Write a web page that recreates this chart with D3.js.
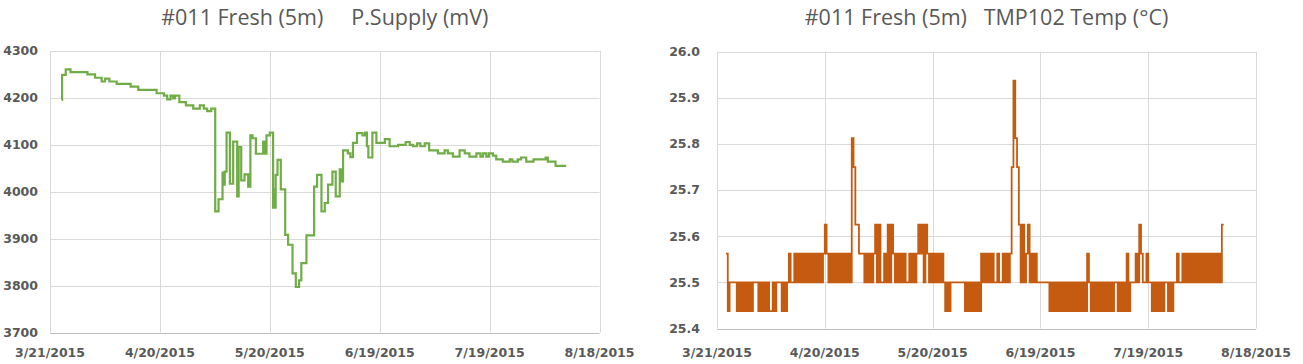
<!DOCTYPE html>
<html>
<head>
<meta charset="utf-8">
<script src="https://cdn.jsdelivr.net/npm/d3@7"></script>
<style>
body { margin: 0; background: #fff; }
</style>
</head>
<body>
<div id="chart"></div>
<script>
var dateTicks = ["3/21/2015", "4/20/2015", "5/20/2015", "6/19/2015", "7/19/2015", "8/18/2015"];
var supplyTicks = [3700, 3800, 3900, 4000, 4100, 4200, 4300];
var tempTicks = [25.4, 25.5, 25.6, 25.7, 25.8, 25.9, 26.0];

// P.Supply readings: [days after 3/21/2015, mV] (value holds until next reading)
var supplySteps = [
  [3.2, 4196], [3.3, 4249], [4.3, 4261], [5.6, 4255], [10.2, 4250], [12.3, 4243], [14.1, 4235],
  [15.0, 4241], [16.2, 4235], [18.2, 4230], [22.0, 4224], [24.1, 4217], [29.1, 4210], [31.1, 4205],
  [32.0, 4197], [32.9, 4205], [33.6, 4199], [34.1, 4205], [35.3, 4191], [37.1, 4184], [39.1, 4177],
  [40.9, 4184], [42.0, 4177], [42.9, 4172], [44.0, 4177], [45.1, 3958], [46.0, 3984], [47.1, 4041],
  [47.4, 4015], [47.7, 4043], [48.2, 4126], [49.1, 4017], [50.0, 4107], [51.1, 3990], [51.5, 4095],
  [52.2, 4024], [53.1, 4037], [54.1, 4011], [54.7, 4120], [55.3, 4114], [56.2, 4081], [58.2, 4107],
  [58.6, 4081], [59.1, 4120], [60.0, 4126], [60.9, 3966], [61.2, 4005], [61.4, 3966], [61.6, 4036],
  [62.1, 4068], [63.0, 4005], [64.2, 3908], [65.0, 3887], [66.2, 3826], [67.1, 3797], [68.0, 3811],
  [68.6, 3848], [70.0, 3907], [72.1, 4011], [72.9, 4036], [74.1, 3958], [75.0, 3976], [75.9, 4015],
  [77.1, 4043], [78.0, 3990], [79.1, 4048], [79.5, 4022], [80.0, 4088], [81.3, 4082], [82.0, 4074],
  [82.7, 4104], [83.8, 4125], [85.3, 4120], [86.0, 4126], [86.5, 4097], [86.9, 4073], [88.0, 4126],
  [89.1, 4104], [91.4, 4112], [92.7, 4097], [95.0, 4100], [97.1, 4106], [98.2, 4100], [99.1, 4097],
  [100.2, 4103], [101.1, 4097], [102.3, 4103], [103.5, 4088], [105.9, 4082], [107.7, 4088], [108.6, 4082],
  [110.0, 4075], [111.8, 4088], [113.2, 4082], [114.5, 4075], [116.4, 4082], [117.5, 4075], [118.2, 4082],
  [119.1, 4075], [119.8, 4082], [120.9, 4077], [121.8, 4069], [123.6, 4064], [125.5, 4069], [126.2, 4064],
  [127.7, 4069], [128.6, 4073], [130.0, 4064], [132.0, 4069], [135.3, 4073], [135.9, 4064], [138.0, 4055],
  [140.9, 4055]
];

// TMP102 readings, one code per half day starting at day 2.5; code = index in tempLevels
var tempLevels = [25.4375, 25.5, 25.5625, 25.625, 25.6875, 25.75, 25.8125, 25.875, 25.9375];
var tempStart = 2.5, tempStep = 0.5;
var tempCodes = [
  "20111101010101011101",
  "01010010111010121121",
  "21212121212121232121",
  "21212121216533222121",
  "21231311213132121212",
  "11212123231321212121",
  "21010111111110101010",
  "10212121211211212125",
  "86531312312121111111",
  "01010101010101010101",
  "02101010101010101101",
  "01020111213211211010",
  "10101101011211212121",
  "21212121212121213"
];

var day0 = new Date(2015, 2, 21);
function dayToDate(d) { return new Date(day0.getTime() + d * 864e5); }

var supplyData = supplySteps.map(function(p) { return { date: dayToDate(p[0]), v: p[1] }; });
var tempData = [];
tempCodes.join("").split("").forEach(function(c, i) {
  tempData.push({ date: dayToDate(tempStart + i * tempStep), v: tempLevels[+c] });
});
tempData.push({ date: dayToDate(tempStart + (tempData.length) * tempStep), v: tempData[tempData.length - 1].v });

var parseTick = d3.timeParse("%m/%d/%Y");
var tickDates = dateTicks.map(parseTick);

var svg = d3.select("#chart").append("svg").attr("width", 1303).attr("height", 364);

function panel(opt) {
  var x = d3.scaleTime().domain([tickDates[0], tickDates[tickDates.length - 1]]).range([opt.x0, opt.x1]);
  var y = d3.scaleLinear().domain([opt.ticks[0], opt.ticks[opt.ticks.length - 1]]).range([opt.y0, opt.y1]);
  var g = svg.append("g");

  g.selectAll(".hg").data(opt.ticks).enter().append("line")
    .attr("x1", opt.x0).attr("x2", opt.x1)
    .attr("y1", function(d) { return Math.round(y(d)) + 0.5; })
    .attr("y2", function(d) { return Math.round(y(d)) + 0.5; })
    .attr("stroke", function(d, i) { return i == 0 ? "#bfbfbf" : "#d9d9d9"; })
    .attr("stroke-width", 1);
  g.selectAll(".vg").data(tickDates).enter().append("line")
    .attr("x1", function(d) { return Math.round(x(d)) + 0.5; })
    .attr("x2", function(d) { return Math.round(x(d)) + 0.5; })
    .attr("y1", opt.y1).attr("y2", opt.y0)
    .attr("stroke", "#d9d9d9").attr("stroke-width", 1);

  g.selectAll(".yl").data(opt.ticks).enter().append("text")
    .attr("x", opt.labelX).attr("y", function(d) { return y(d); })
    .attr("dy", "0.35em").attr("text-anchor", "end")
    .attr("font-family", "DejaVu Sans").attr("font-weight", "bold").attr("font-size", "12.5px")
    .attr("fill", "#595959")
    .text(function(d) { return opt.fmt(d); });
  g.selectAll(".xl").data(tickDates).enter().append("text")
    .attr("x", function(d) { return x(d); }).attr("y", 353)
    .attr("dy", "0.35em").attr("text-anchor", "middle")
    .attr("font-family", "DejaVu Sans").attr("font-weight", "bold").attr("font-size", "12.5px")
    .attr("fill", "#595959")
    .text(function(d, i) { return dateTicks[i]; });

  g.append("text").attr("x", (opt.x0 + opt.x1) / 2).attr("y", 17).attr("dy", "0.35em")
    .attr("text-anchor", "middle").attr("font-family", "Open Sans").attr("font-size", "21.5px")
    .attr("fill", "#595959").attr("xml:space", "preserve").style("white-space", "pre")
    .text(opt.title);

  var line = d3.line().curve(d3.curveStepAfter)
    .x(function(d) { return x(d.date); }).y(function(d) { return y(d.v); });
  g.append("path").datum(opt.data).attr("d", line)
    .attr("fill", "none").attr("stroke", opt.color).attr("stroke-width", opt.width)
    .attr("stroke-linejoin", "miter");
}

panel({ x0: 50, x1: 599.5, y0: 332.5, y1: 51, ticks: supplyTicks, fmt: d3.format("d"),
  labelX: 38, data: supplyData, color: "#70ad47", width: 2.2,
  title: "#011 Fresh (5m)     P.Supply (mV)" });
panel({ x0: 717, x1: 1256, y0: 328.5, y1: 51.7, ticks: tempTicks, fmt: d3.format(".1f"),
  labelX: 700, data: tempData, color: "#c55a11", width: 1.8,
  title: "#011 Fresh (5m)   TMP102 Temp (\u00b0C)" });
</script>
</body>
</html>
